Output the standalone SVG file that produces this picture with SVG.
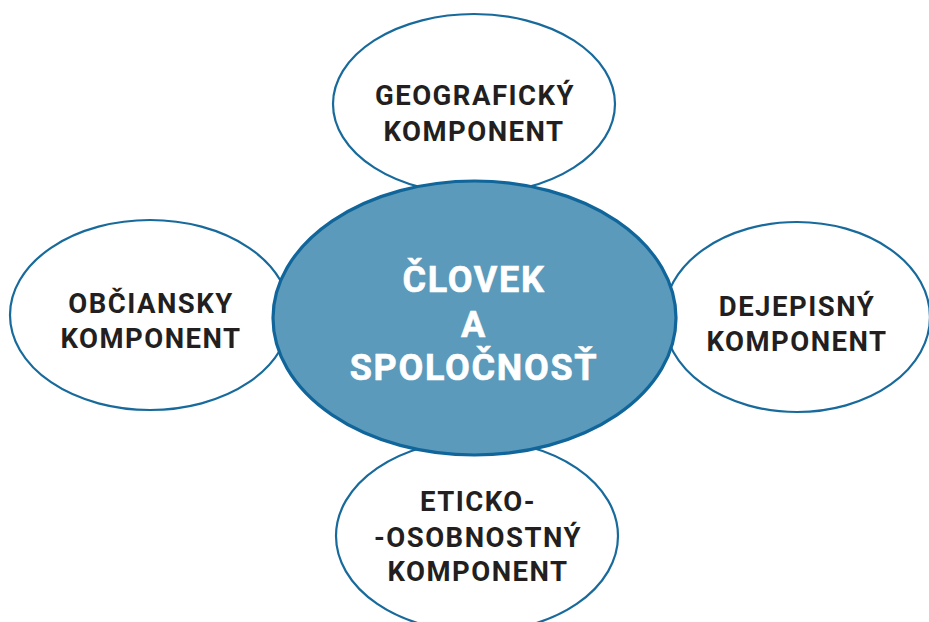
<svg xmlns="http://www.w3.org/2000/svg" width="929" height="622" viewBox="0 0 929 622">
<style>
.outer{fill:#ffffff;stroke:#176a9b;stroke-width:2.2}
.center{fill:#5b9aba;stroke:#10659a;stroke-width:3.2}
.lbl{font-family:Roboto,"Liberation Sans",sans-serif;font-weight:bold;font-size:27.5px;fill:#231f20;text-anchor:middle;letter-spacing:1.5px}
.clbl{font-family:Roboto,"Liberation Sans",sans-serif;font-weight:bold;font-size:36px;fill:#ffffff;text-anchor:middle;letter-spacing:1.7px;stroke:#ffffff;stroke-width:0.6px}
</style>
<rect width="929" height="622" fill="#ffffff"/>
<g id="connectors"></g>
<g id="geograficky">
<ellipse class="outer" cx="474" cy="104" rx="141" ry="90"/>
<text class="lbl" x="475" y="105">GEOGRAFICKÝ</text>
<text class="lbl" x="474" y="141">KOMPONENT</text>
</g>
<g id="obciansky">
<ellipse class="outer" cx="150" cy="315" rx="140" ry="95"/>
<text class="lbl" x="151" y="313">OBČIANSKY</text>
<text class="lbl" x="151" y="348">KOMPONENT</text>
</g>
<g id="dejepisny">
<ellipse class="outer" cx="797" cy="317" rx="133" ry="95"/>
<text class="lbl" x="797" y="316">DEJEPISNÝ</text>
<text class="lbl" x="797" y="351">KOMPONENT</text>
</g>
<g id="eticko">
<ellipse class="outer" cx="477" cy="536" rx="141" ry="96"/>
<text class="lbl" x="478" y="511">ETICKO-</text>
<text class="lbl" x="478" y="547">-OSOBNOSTNÝ</text>
<text class="lbl" x="478" y="581">KOMPONENT</text>
</g>
<g id="clovek">
<ellipse class="center" cx="474.5" cy="318" rx="201.5" ry="137"/>
<text class="clbl" x="474" y="292">ČLOVEK</text>
<text class="clbl" x="474" y="337">A</text>
<text class="clbl" x="474" y="380">SPOLOČNOSŤ</text>
</g>
</svg>
